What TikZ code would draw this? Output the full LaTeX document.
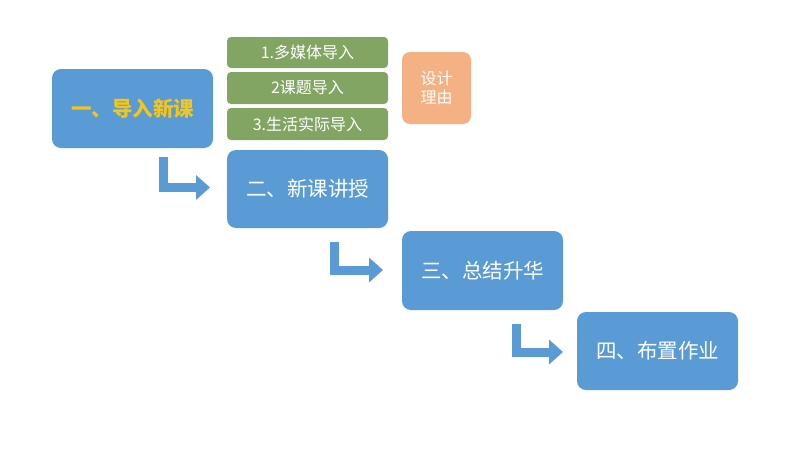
\documentclass[tikz,border=0pt]{standalone}
\usepackage{fontspec}
\setmainfont{Noto Sans CJK SC}
\usetikzlibrary{arrows.meta}
\definecolor{bl}{HTML}{5B9BD5}
\definecolor{gr}{HTML}{82A564}
\definecolor{og}{HTML}{F4B183}
\definecolor{gd}{HTML}{F5C518}
\begin{document}
\begin{tikzpicture}[x=1pt,y=-1pt,
 bbox/.style={fill=bl,rounded corners=9pt},
 gbox/.style={fill=gr,rounded corners=4pt},
 btxt/.style={text=white,font=\fontsize{20.5}{24}\selectfont},
 gtxt/.style={text=white,font=\fontsize{16}{19}\selectfont},
 elbow/.style={draw=bl,line width=9pt,-{Triangle[length=14pt,width=24pt]}}]
\useasboundingbox (0,0) rectangle (800,450);
\fill[bbox] (52,69) rectangle (213,148);
\node[text=gd,font=\fontsize{20.5}{24}\selectfont\bfseries] (a) at (132.5,108.5) {一、导入新课};
\fill[gbox] (227,37) rectangle (388,68); \node[gtxt] (g1) at (307.5,52.5) {1.多媒体导入};
\fill[gbox] (227,72) rectangle (388,104); \node[gtxt] (g2) at (307.5,88) {2课题导入};
\fill[gbox] (227,108) rectangle (388,140); \node[gtxt] (g3) at (307.5,124) {3.生活实际导入};
\fill[og,rounded corners=8pt] (402,52) rectangle (471,124);
\node[text=white,align=center,font=\fontsize{16}{19}\selectfont] (o) at (436.5,88) {设计\\理由};
\fill[bbox] (227,150) rectangle (388,228); \node[btxt] (b) at (307.5,189) {二、新课讲授};
\fill[bbox] (402,231) rectangle (563,310); \node[btxt] (c) at (482.5,270.5) {三、总结升华};
\fill[bbox] (577,312) rectangle (738,390); \node[btxt] (d) at (657.5,351) {四、布置作业};
\draw[elbow] (163.5,157) |- (210,187.5);
\draw[elbow] (334.5,242) |- (383,270);
\draw[elbow] (516.5,324) |- (563,352);
\end{tikzpicture}
\end{document}
